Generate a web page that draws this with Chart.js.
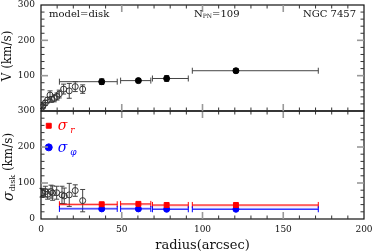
<!DOCTYPE html>
<html>
<head>
<meta charset="utf-8">
<script src="https://cdn.jsdelivr.net/npm/chart.js@4.4.1/dist/chart.umd.min.js"></script>
<style>
body { margin: 0; background: #fff; }
#wrap { position: relative; width: 374px; height: 252px; }
#c1 { position: absolute; left: 0; top: 0; }
#c2 { position: absolute; left: 0; top: 104px; }
</style>
</head>
<body>
<div id="wrap">
  <canvas id="c2" width="374" height="148"></canvas>
  <canvas id="c1" width="374" height="116"></canvas>
</div>
<script>
// top panel: rotation velocity V
var vOpenR   = [1.0, 1.4, 2.7, 4.1, 5.6, 6.6, 8.2, 9.9, 11.3, 14.0, 17.5, 21.2, 25.8];
var vOpenV   = [12, 17, 23, 31, 45, 33, 36, 41, 48, 62, 57, 69, 62];
var vOpenErr = [5, 6, 7, 8, 12, 8, 10, 10, 11, 14, 21, 14, 12];

// binned model points (shared radii)
var binR  = [37.6, 60.3, 77.8, 120.7];
var binLo = [11.4, 49.3, 69.0, 93.7];
var binHi = [47.2, 68.0, 91.2, 171.7];
var vBin    = [83, 86, 92, 114];
var vBinErr = [8, 6, 8, 6];

// bottom panel: sigma_disk
var sOpenR   = [0.6, 1.2, 2.7, 4.1, 6.2, 7.2, 9.7, 13.0, 14.4, 17.5, 21.2, 25.8];
var sOpenS   = [73, 73, 76, 69, 76, 72, 73, 67, 64, 67, 79, 51];
var sOpenErr = [12, 10, 15, 14, 18, 20, 18, 24, 22, 32, 16, 31];
var sigR   = [41, 42, 39, 39];
var sigPhi = [28, 28, 27, 27];

// legend marker spots
var legR = [4.8, 4.8];
var legS = [259, 199];

var serif = '"DejaVu Serif", serif';

function pts(xs, ys) {
  return xs.map(function (x, i) { return { x: x, y: ys[i] }; });
}

function line(ctx, x1, y1, x2, y2) {
  ctx.beginPath(); ctx.moveTo(x1, y1); ctx.lineTo(x2, y2); ctx.stroke();
}

// vertical error bars with caps
function yErr(chart, rs, vs, es, color) {
  var ctx = chart.ctx, xs = chart.scales.x, ys = chart.scales.y;
  ctx.strokeStyle = color; ctx.lineWidth = 1;
  rs.forEach(function (r, i) {
    var x = xs.getPixelForValue(r);
    var y1 = ys.getPixelForValue(vs[i] - es[i]), y2 = ys.getPixelForValue(vs[i] + es[i]);
    line(ctx, x, y1, x, y2);
    line(ctx, x - 2.5, y1, x + 2.5, y1);
    line(ctx, x - 2.5, y2, x + 2.5, y2);
  });
}

// horizontal bin bars with caps
function xErr(chart, vs, color, band, bandOff) {
  var ctx = chart.ctx, xs = chart.scales.x, ys = chart.scales.y;
  binLo.forEach(function (lo, i) {
    var x1 = xs.getPixelForValue(lo), x2 = xs.getPixelForValue(binHi[i]);
    var y = ys.getPixelForValue(vs[i]);
    if (band) {
      var yb = ys.getPixelForValue(vs[i] + bandOff);
      ctx.fillStyle = band;
      ctx.fillRect(x1, Math.min(y, yb), x2 - x1, Math.abs(yb - y));
    }
    ctx.strokeStyle = color; ctx.lineWidth = 1;
    line(ctx, x1, y, x2, y);
    line(ctx, x1, y - 3, x1, y + 3);
    line(ctx, x2, y - 3, x2, y + 3);
  });
}

function frame(chart) {
  var ctx = chart.ctx, a = chart.chartArea, xs = chart.scales.x, ys = chart.scales.y;
  ctx.save();
  ctx.strokeStyle = '#111'; ctx.lineWidth = 1.2;
  ctx.strokeRect(a.left, a.top, a.right - a.left, a.bottom - a.top);
  for (var v = 10; v < 200; v += 10) {
    var x = xs.getPixelForValue(v), big = v % 50 === 0, len = big ? 7 : 3.5;
    ctx.strokeStyle = big ? '#999' : '#333'; ctx.lineWidth = big ? 1.6 : 1;
    line(ctx, x, a.bottom, x, a.bottom - len);
    line(ctx, x, a.top, x, a.top + len);
  }
  for (var w = 20; w < 300; w += 20) {
    var y = ys.getPixelForValue(w), bg = w % 100 === 0, ln = bg ? 7 : 3.5;
    ctx.strokeStyle = bg ? '#999' : '#333'; ctx.lineWidth = bg ? 1.6 : 1;
    line(ctx, a.left, y, a.left + ln, y);
    line(ctx, a.right, y, a.right - ln, y);
  }
  ctx.restore();
}

// draw a row of [text, font, dy, color] pieces
function pieces(ctx, parts, x, y) {
  parts.forEach(function (p) {
    ctx.font = p[1]; ctx.fillStyle = p[3] || '#111';
    ctx.fillText(p[0], x, y + p[2]);
    x += ctx.measureText(p[0]).width;
  });
}

function widthOf(ctx, parts) {
  var w = 0;
  parts.forEach(function (p) { ctx.font = p[1]; w += ctx.measureText(p[0]).width; });
  return w;
}

function vTitle(chart, parts, cx, cy) {
  var ctx = chart.ctx;
  ctx.save();
  ctx.translate(cx, cy); ctx.rotate(-Math.PI / 2);
  ctx.textBaseline = 'middle';
  pieces(ctx, parts, -widthOf(ctx, parts) / 2, 0);
  ctx.restore();
}

var topPlugin = {
  id: 'topPanel',
  beforeDatasetsDraw: function (chart) {
    chart.ctx.save();
    yErr(chart, vOpenR, vOpenV, vOpenErr, '#444');
    xErr(chart, vBin, '#444');
    yErr(chart, binR, vBin, vBinErr, '#222');
    chart.ctx.restore();
  },
  afterDraw: function (chart) {
    frame(chart);
    var ctx = chart.ctx;
    ctx.save();
    ctx.textBaseline = 'middle';
    pieces(ctx, [['model=disk', '10px ' + serif, 0]], 49, 14);
    pieces(ctx, [['N', '10px ' + serif, 0], ['PN', '6px ' + serif, 2], ['=109', '10px ' + serif, 0]], 194, 14);
    ctx.textAlign = 'right';
    pieces(ctx, [['NGC 7457', '10px ' + serif, 0]], 356, 14);
    ctx.textAlign = 'left';
    ctx.restore();
    vTitle(chart, [['V (km/s)', '12px ' + serif, 0]], 8, 56);
  }
};

var botPlugin = {
  id: 'botPanel',
  beforeDatasetsDraw: function (chart) {
    chart.ctx.save();
    yErr(chart, sOpenR, sOpenS, sOpenErr, '#444');
    xErr(chart, sigR, '#f00', 'rgba(255,80,80,0.45)', -4);
    xErr(chart, sigPhi, '#00f', 'rgba(90,90,255,0.4)', 4);
    chart.ctx.restore();
  },
  afterDraw: function (chart) {
    frame(chart);
    var ctx = chart.ctx, xs = chart.scales.x, ys = chart.scales.y;
    ctx.save();
    ctx.textBaseline = 'middle';
    var lx = xs.getPixelForValue(legR[0]) + 9;
    pieces(ctx, [['\u03c3', 'italic 14px ' + serif, 0, '#f00'], [' r', 'italic 9px ' + serif, 4, '#f00']], lx, ys.getPixelForValue(legS[0]) + 1);
    pieces(ctx, [['\u03c3', 'italic 14px ' + serif, 0, '#00f'], [' \u03c6', 'italic 9px ' + serif, 4, '#00f']], lx, ys.getPixelForValue(legS[1]) + 1);
    ctx.restore();
    vTitle(chart, [['\u03c3', 'italic 14px ' + serif, 0], ['disk', '8px ' + serif, 4], [' (km/s)', '12px ' + serif, 0]], 9, 63);
  }
};

function yScale(hideZero) {
  return {
    type: 'linear', min: 0, max: 300,
    grid: { display: false, drawTicks: false },
    border: { display: false },
    ticks: {
      stepSize: 100, padding: 6, color: '#111',
      font: { family: serif, size: 9 },
      callback: function (v) { return (hideZero && v === 0) ? '' : v; }
    },
    afterFit: function (s) { s.width = 41; s.paddingTop = 0; s.paddingBottom = 0; }
  };
}

new Chart(document.getElementById('c1'), {
  type: 'scatter',
  data: {
    datasets: [
      { data: pts(vOpenR, vOpenV), pointRadius: 3, pointBackgroundColor: 'rgba(255,255,255,0)', pointBorderColor: '#333', pointBorderWidth: 1 },
      { data: pts(binR, vBin), pointRadius: 3, pointBackgroundColor: '#000', pointBorderColor: '#000' }
    ]
  },
  options: {
    responsive: false, animation: false,
    layout: { padding: { left: 0, right: 10, top: 4, bottom: 5 } },
    plugins: { legend: { display: false }, tooltip: { enabled: false } },
    scales: {
      x: { type: 'linear', min: 0, max: 200, display: false },
      y: yScale(true)
    }
  },
  plugins: [topPlugin]
});

new Chart(document.getElementById('c2'), {
  type: 'scatter',
  data: {
    datasets: [
      { data: pts(sOpenR, sOpenS), pointRadius: 3, pointBackgroundColor: 'rgba(255,255,255,0)', pointBorderColor: '#333', pointBorderWidth: 1 },
      { data: pts(binR, sigR), pointStyle: 'rect', pointRadius: 3.5, pointBackgroundColor: '#f00', pointBorderColor: '#f00' },
      { data: pts(binR, sigPhi), pointRadius: 3, pointBackgroundColor: '#00f', pointBorderColor: '#00f' },
      { data: [{ x: legR[0], y: legS[0] }], pointStyle: 'rect', pointRadius: 3.5, pointBackgroundColor: '#f00', pointBorderColor: '#f00' },
      { data: [{ x: legR[1], y: legS[1] }], pointRadius: 3.5, pointBackgroundColor: '#00f', pointBorderColor: '#00f' }
    ]
  },
  options: {
    responsive: false, animation: false,
    layout: { padding: { left: 0, right: 10, top: 7, bottom: 0 } },
    plugins: { legend: { display: false }, tooltip: { enabled: false } },
    scales: {
      x: {
        type: 'linear', min: 0, max: 200,
        grid: { display: false, drawTicks: false },
        border: { display: false },
        ticks: { stepSize: 50, padding: 5, color: '#111', font: { family: serif, size: 9 }, maxRotation: 0 },
        title: { display: true, text: 'radius(arcsec)', color: '#111', font: { family: serif, size: 13, lineHeight: 1 }, padding: 0 },
        afterFit: function (s) { s.height = 33; s.paddingLeft = 0; s.paddingRight = 0; }
      },
      y: yScale(false)
    }
  },
  plugins: [botPlugin]
});
</script>
</body>
</html>
